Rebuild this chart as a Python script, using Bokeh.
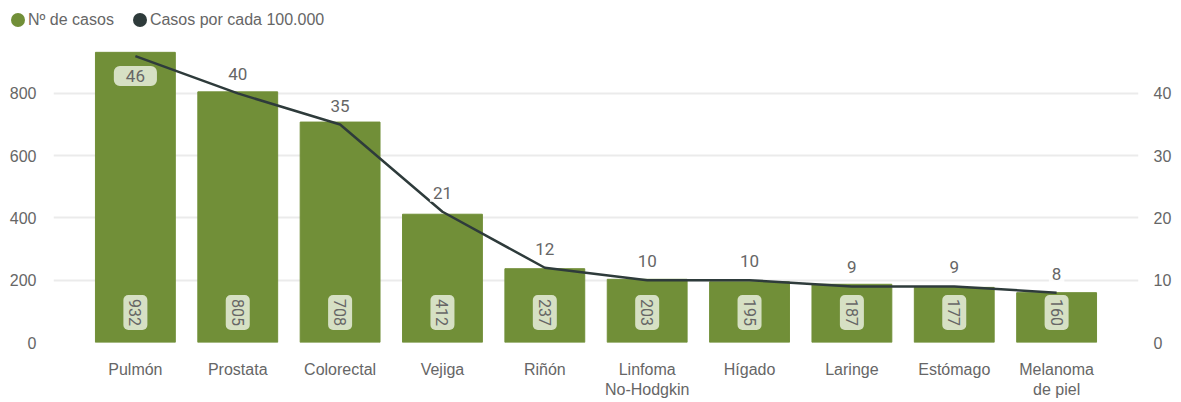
import math
from bokeh.plotting import figure
from bokeh.layouts import column
from bokeh.models import (ColumnDataSource, FactorRange, Range1d, LinearAxis,
                          FixedTicker, Div)
from bokeh.core.properties import value
from bokeh.embed import file_html
from bokeh.resources import INLINE

categorias = ["Pulmón", "Prostata", "Colorectal", "Vejiga", "Riñón",
              "Linfoma\nNo-Hodgkin", "Hígado", "Laringe", "Estómago",
              "Melanoma\nde piel"]
casos = [932, 805, 708, 412, 237, 203, 195, 187, 177, 160]
tasa = [46, 40, 35, 21, 12, 10, 10, 9, 9, 8]
ticks_casos = [0, 200, 400, 600, 800]
ticks_tasa = [0, 10, 20, 30, 40]
serie_casos = "Nº de casos"
serie_tasa = "Casos por cada 100.000"

VERDE = "#718f38"
OSCURO = "#2e3b3b"
GRIS = "#666666"
FONT = "Liberation Sans"
FONT_NUM = "Roboto"

src = ColumnDataSource(dict(cat=categorias, casos=casos, tasa=tasa,
                            casos_txt=[str(v) for v in casos],
                            cero=[0] * len(casos)))
src_top = ColumnDataSource(dict(cat=categorias[:1], tasa=tasa[:1],
                                txt=[str(v) for v in tasa[:1]]))
src_rest = ColumnDataSource(dict(cat=categorias[1:], tasa=tasa[1:],
                                 txt=[str(v) for v in tasa[1:]]))

p = figure(width=1181, height=372, output_backend="svg", toolbar_location=None,
           x_range=FactorRange(factors=categorias, range_padding=0.06),
           y_range=Range1d(0, 970),
           min_border_left=53, min_border_right=43,
           min_border_top=10, min_border_bottom=60)
p.extra_y_ranges = {"tasa": Range1d(0, 48.5)}
p.outline_line_color = None
p.background_fill_color = "white"
p.border_fill_color = "white"

p.vbar(x="cat", top="casos", width=0.78, source=src, color=VERDE)

p.line(x="cat", y="tasa", source=src, y_range_name="tasa",
       line_color=OSCURO, line_width=2.5)

# value labels inside bars (rotated)
p.text(x="cat", y="cero", text="casos_txt", source=src, angle=-math.pi / 2,
       y_offset=-30, text_align="center", text_baseline="middle",
       text_font=value(FONT_NUM), text_font_size="16px", text_color=GRIS,
       background_fill_color="#d6e0c4", border_radius=5, padding=[4, 6])

# rate labels
p.text(x="cat", y="tasa", text="txt", source=src_top, y_range_name="tasa",
       y_offset=20, text_align="center", text_baseline="middle",
       text_font=value(FONT_NUM), text_font_size="17px", text_color=GRIS,
       background_fill_color="#d6e0c4", border_radius=6, padding=[12, 4])
p.text(x="cat", y="tasa", text="txt", source=src_rest, y_range_name="tasa",
       y_offset=-19, text_align="center", text_baseline="middle",
       text_font=value(FONT_NUM), text_font_size="17px", text_color=GRIS,
       background_fill_color="white", background_fill_alpha=0.85, padding=3)

# axes
p.yaxis.ticker = FixedTicker(ticks=ticks_casos)
right = LinearAxis(y_range_name="tasa", ticker=FixedTicker(ticks=ticks_tasa))
p.add_layout(right, "right")
for ax in (p.yaxis[0], right, p.xaxis[0]):
    ax.axis_line_color = None
    ax.major_tick_line_color = None
    ax.minor_tick_line_color = None
    ax.major_tick_out = 0
    ax.major_tick_in = 0
    ax.minor_tick_out = 0
    ax.minor_tick_in = 0
    ax.major_label_text_font = FONT
    ax.major_label_text_font_size = "16px"
    ax.major_label_text_color = GRIS
p.yaxis[0].major_label_standoff = 17
right.major_label_standoff = 15
p.xaxis.major_label_standoff = 18
p.xaxis.major_label_text_line_height = 1.2

p.xgrid.grid_line_color = None
p.ygrid.grid_line_color = "#ebebeb"
p.ygrid.grid_line_width = 2
p.ygrid.ticker = FixedTicker(ticks=ticks_casos)

# legend (HTML row above the plot)
dot = ("display:inline-block;width:14px;height:14px;border-radius:50%;"
       "background:{c};margin-right:3px;")
legend_html = (
    f'<div style="display:flex;align-items:center;font-family:\'{FONT}\';'
    f'font-size:16px;color:{GRIS};padding:9px 0 0 11px;white-space:nowrap;">'
    f'<span style="{dot.format(c=VERDE)}"></span><span>{serie_casos}</span>'
    f'<span style="{dot.format(c=OSCURO)}margin-left:19px;"></span>'
    f'<span>{serie_tasa}</span></div>')
leg = Div(text=legend_html, width=1181, height=30, margin=0)

layout = column(leg, p, spacing=0, margin=0)

open("out.html", "w").write(file_html(layout, INLINE))
